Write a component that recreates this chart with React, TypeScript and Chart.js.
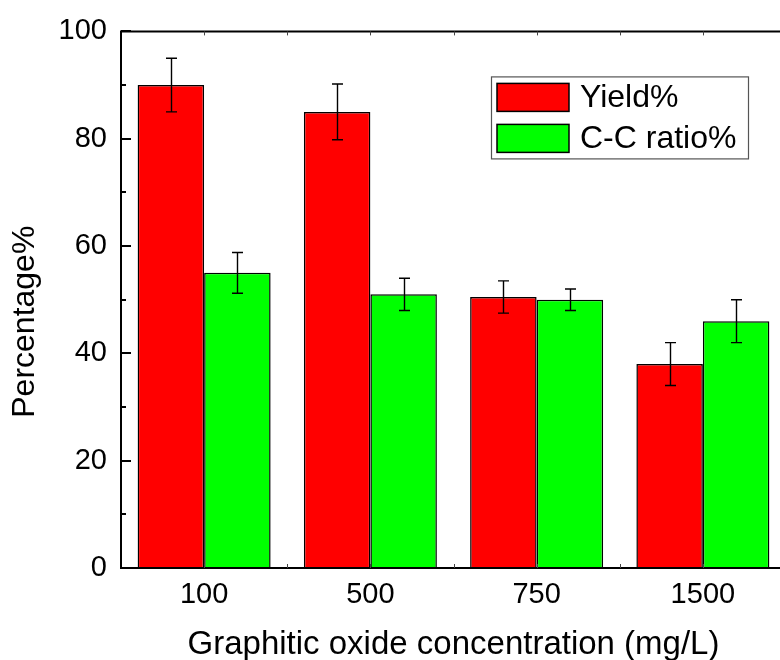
import React, { useEffect, useRef } from "react";
import { Chart, registerables } from "chart.js";

Chart.register(...registerables);

// Graphitic oxide concentration categories (mg/L)
const concentrations = ["100", "500", "750", "1500"];

// Yield (%) and its error
const yieldPct = [90, 85, 50.5, 38];
const yieldErr = [5, 5.2, 3, 4];

// C-C ratio (%) and its error
const ccRatioPct = [55, 51, 50, 46];
const ccRatioErr = [3.8, 3, 2, 4];

const seriesNames = ["Yield%", "C-C ratio%"];
const seriesColors = ["#ff0000", "#00ff00"];

const yMin = 0;
const yMax = 100;
const yStep = 20;

const FONT = "'Liberation Sans', Arial, Helvetica, sans-serif";
const xTitle = "Graphitic oxide concentration (mg/L)";
const yTitle = "Percentage%";

// Draws the error bars, the axis frame with inward ticks, titles and the boxed legend.
const framePlugin = {
  id: "frame",
  afterDatasetsDraw(chart: any) {
    const ctx: CanvasRenderingContext2D = chart.ctx;
    const yScale = chart.scales.y;
    ctx.save();
    ctx.strokeStyle = "#000";
    ctx.lineWidth = 1.4;
    chart.data.datasets.forEach((ds: any, di: number) => {
      const meta = chart.getDatasetMeta(di);
      meta.data.forEach((bar: any, i: number) => {
        const v = ds.data[i];
        const e = ds.errors[i];
        const yt = yScale.getPixelForValue(v + e);
        const yb = yScale.getPixelForValue(v - e);
        const cx = Math.round(bar.x) + 0.5;
        ctx.beginPath();
        ctx.moveTo(cx, yt);
        ctx.lineTo(cx, yb);
        ctx.moveTo(cx - 5.5, yt);
        ctx.lineTo(cx + 5.5, yt);
        ctx.moveTo(cx - 5.5, yb);
        ctx.lineTo(cx + 5.5, yb);
        ctx.stroke();
      });
    });
    ctx.restore();
  },
  afterDraw(chart: any) {
    const ctx: CanvasRenderingContext2D = chart.ctx;
    const { left, right, top, bottom } = chart.chartArea;
    const xScale = chart.scales.x;
    const yScale = chart.scales.y;
    ctx.save();
    ctx.strokeStyle = "#000";
    ctx.lineWidth = 2;

    // spines
    ctx.beginPath();
    ctx.moveTo(left, top);
    ctx.lineTo(right, top);
    ctx.lineTo(right, bottom);
    ctx.lineTo(left, bottom);
    ctx.closePath();
    ctx.stroke();

    // y ticks (major + minor), pointing inward from the left spine
    for (let v = yMin; v <= yMax; v += yStep / 2) {
      const py = Math.round(yScale.getPixelForValue(v));
      const len = v % yStep === 0 ? 10 : 5;
      ctx.beginPath();
      ctx.moveTo(left, py);
      ctx.lineTo(left + len, py);
      ctx.stroke();
    }

    // x ticks at category centres and boundaries
    ctx.lineWidth = 1;
    ctx.strokeStyle = "#444";
    const n = concentrations.length;
    const half = (xScale.getPixelForValue(1) - xScale.getPixelForValue(0)) / 2;
    for (let i = 0; i < n; i++) {
      const c = xScale.getPixelForValue(i);
      [c, c + half].forEach((px) => {
        if (px >= right - 1) return;
        const xx = Math.round(px) + 0.5;
        ctx.beginPath();
        ctx.moveTo(xx, top);
        ctx.lineTo(xx, top + 4);
        ctx.moveTo(xx, bottom);
        ctx.lineTo(xx, bottom - 4);
        ctx.stroke();
      });
    }

    // axis titles
    ctx.fillStyle = "#000";
    ctx.textAlign = "center";
    ctx.textBaseline = "middle";
    ctx.font = `33px ${FONT}`;
    ctx.fillText(xTitle, (left + right) / 2, bottom + 77);
    ctx.font = `32px ${FONT}`;
    ctx.save();
    ctx.translate(25, (top + bottom) / 2 + 22);
    ctx.rotate(-Math.PI / 2);
    ctx.fillText(yTitle, 0, 0);
    ctx.restore();

    // legend box
    const lx = left + 370;
    const ly = top + 45;
    const lw = 257;
    const lh = 82;
    ctx.strokeStyle = "#555";
    ctx.lineWidth = 1.2;
    ctx.strokeRect(lx + 0.5, ly + 0.5, lw, lh);
    ctx.textAlign = "left";
    ctx.textBaseline = "middle";
    seriesNames.forEach((name, i) => {
      const sy = ly + 7 + i * 41;
      ctx.fillStyle = seriesColors[i];
      ctx.fillRect(lx + 6, sy, 72, 28);
      ctx.strokeStyle = "#000";
      ctx.lineWidth = 1.5;
      ctx.strokeRect(lx + 6, sy, 72, 28);
      ctx.fillStyle = "#000";
      ctx.fillText(name, lx + 89, sy + 15);
    });

    ctx.restore();
  },
};

export default function App() {
  const canvasRef = useRef<HTMLCanvasElement | null>(null);

  useEffect(() => {
    const canvas = canvasRef.current;
    if (!canvas) return;
    const chart = new Chart(canvas, {
      type: "bar",
      data: {
        labels: concentrations,
        datasets: [
          {
            label: seriesNames[0],
            data: yieldPct,
            errors: yieldErr,
            backgroundColor: seriesColors[0],
            borderColor: "#000",
            borderWidth: 1.5,
          } as any,
          {
            label: seriesNames[1],
            data: ccRatioPct,
            errors: ccRatioErr,
            backgroundColor: seriesColors[1],
            borderColor: "#000",
            borderWidth: 1.5,
          } as any,
        ],
      },
      options: {
        responsive: false,
        animation: false,
        devicePixelRatio: 1,
        layout: { padding: { top: 28, right: 14, left: 0, bottom: 0 } },
        datasets: {
          bar: { categoryPercentage: 0.8, barPercentage: 1.0 },
        },
        plugins: {
          legend: { display: false },
          tooltip: { enabled: false },
        },
        scales: {
          x: {
            grid: { display: false, drawTicks: false },
            border: { display: false },
            ticks: {
              color: "#000",
              font: { family: FONT, size: 29 },
              padding: 10,
            },
            afterFit: (s: any) => {
              s.height = 92;
            },
          },
          y: {
            min: yMin,
            max: yMax,
            grid: { display: false, drawTicks: false },
            border: { display: false },
            ticks: {
              stepSize: yStep,
              color: "#000",
              font: { family: FONT, size: 29 },
              padding: 14,
            },
            afterFit: (s: any) => {
              s.width = 121;
            },
          },
        },
      } as any,
      plugins: [framePlugin],
    });
    return () => chart.destroy();
  }, []);

  return (
    <div
      style={{
        position: "fixed",
        left: 0,
        top: 0,
        width: 780,
        height: 660,
        overflow: "hidden",
        background: "#fff",
      }}
    >
      <canvas ref={canvasRef} width={800} height={660} style={{ display: "block" }} />
    </div>
  );
}
